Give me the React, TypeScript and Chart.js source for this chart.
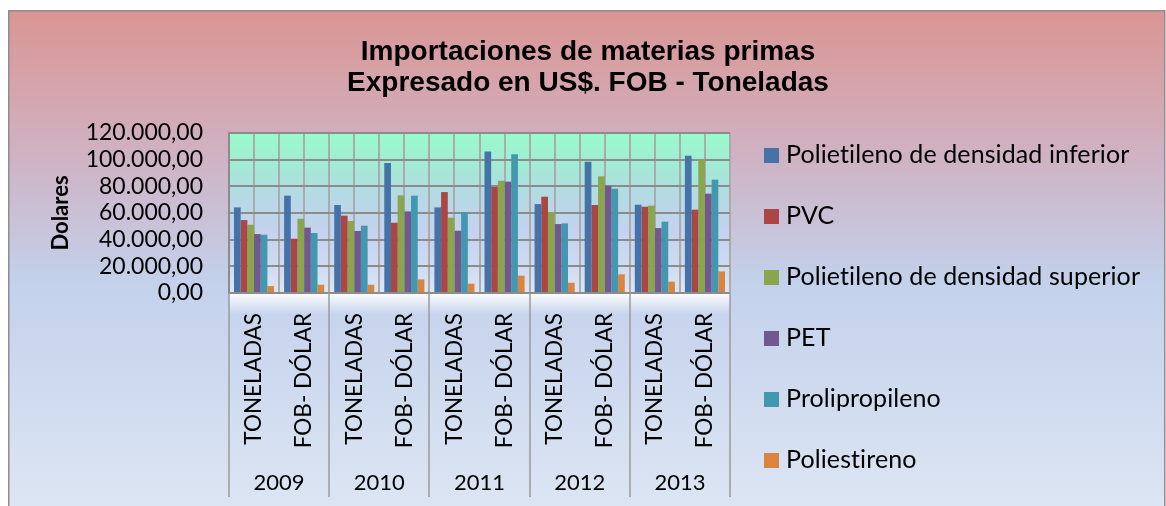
import React, { useEffect, useRef } from 'react';
import { Chart, registerables } from 'chart.js';

Chart.register(...registerables);

const TITLE_LINES = ['Importaciones de materias primas', 'Expresado en US$. FOB - Toneladas'];
const Y_TITLE = 'Dolares';
const YEARS = ['2009', '2010', '2011', '2012', '2013'];
const MEASURES = ['TONELADAS', 'FOB- DÓLAR'];
const CATEGORIES = YEARS.flatMap(() => MEASURES);

const SERIES_NAMES = [
  'Polietileno de densidad inferior',
  'PVC',
  'Polietileno de densidad superior',
  'PET',
  'Prolipropileno',
  'Poliestireno',
];
const PE_INFERIOR = [64200, 73000, 66000, 97500, 64200, 106200, 66700, 98500, 66200, 103000];
const PVC = [54700, 40700, 58000, 52700, 75700, 79500, 72200, 66000, 64700, 62500];
const PE_SUPERIOR = [51200, 55700, 54000, 73200, 56500, 84200, 60500, 87500, 65500, 100200];
const PET = [44200, 49000, 46500, 61200, 46700, 83500, 51700, 80500, 48700, 74500];
const PROLIPROPILENO = [43700, 45000, 50500, 73000, 60700, 104000, 52200, 78200, 53500, 85000];
const POLIESTIRENO = [5200, 6200, 6200, 10200, 7000, 13000, 7700, 14000, 8500, 16200];
const SERIES_VALUES = [PE_INFERIOR, PVC, PE_SUPERIOR, PET, PROLIPROPILENO, POLIESTIRENO];
const COLORS = ['#4572A7', '#AA4643', '#89A54E', '#71588F', '#4198AF', '#DB843D'];

const Y_MIN = 0;
const Y_MAX = 120000;
const Y_STEP = 20000;

const fmt = (v: number) =>
  Math.round(v).toString().replace(/\B(?=(\d{3})+(?!\d))/g, '.') + ',00';

const decor = {
  id: 'decor',
  beforeDraw(chart: any) {
    const { ctx, width, height, chartArea: a } = chart;
    ctx.save();
    ctx.fillStyle = '#ffffff';
    ctx.fillRect(0, 0, width, height);
    const g = ctx.createLinearGradient(0, 2, 0, height);
    g.addColorStop(0, '#DB9593');
    g.addColorStop(0.3, '#CFB3C4');
    g.addColorStop(0.55, '#C3D1EB');
    g.addColorStop(1, '#DCE5F3');
    ctx.fillStyle = g;
    ctx.fillRect(0, 2, width - 1, height - 2);

    const pg = ctx.createLinearGradient(0, a.top, 0, a.bottom);
    pg.addColorStop(0, '#99FACC');
    pg.addColorStop(0.2, '#A2EBD4');
    pg.addColorStop(0.4, '#B5D9E4');
    pg.addColorStop(0.6, '#C4D2EE');
    pg.addColorStop(0.8, '#CDD9F1');
    pg.addColorStop(1, '#DEE6F5');
    ctx.fillStyle = pg;
    ctx.fillRect(a.left, a.top, a.right - a.left, a.bottom - a.top);

    // highlight band under axis
    const hb = ctx.createLinearGradient(0, a.bottom, 0, a.bottom + 22);
    hb.addColorStop(0, 'rgba(255,255,255,0.95)');
    hb.addColorStop(1, 'rgba(255,255,255,0)');
    ctx.fillStyle = hb;
    ctx.fillRect(a.left, a.bottom, a.right - a.left, 22);

    const xs = chart.scales.x;
    const half = (xs.getPixelForValue(1) - xs.getPixelForValue(0)) / 2;
    ctx.strokeStyle = '#ABABAB';
    ctx.lineWidth = 2;
    for (let i = 0; i < CATEGORIES.length; i++) {
      const c = xs.getPixelForValue(i);
      const pts = [c - half, c];
      if (i === CATEGORIES.length - 1) pts.push(c + half);
      for (const p of pts) {
        const px = Math.round(p);
        ctx.beginPath();
        ctx.moveTo(px, a.top);
        ctx.lineTo(px, a.bottom);
        ctx.stroke();
      }
    }
    ctx.restore();
  },
  afterDraw(chart: any) {
    const { ctx, chartArea: a } = chart;
    const xs = chart.scales.x;
    const half = (xs.getPixelForValue(1) - xs.getPixelForValue(0)) / 2;
    ctx.save();
    // title
    ctx.fillStyle = '#000';
    ctx.font = 'bold 28px "Liberation Sans", Arial, sans-serif';
    ctx.textAlign = 'center';
    ctx.textBaseline = 'alphabetic';
    TITLE_LINES.forEach((t, i) => ctx.fillText(t, 580, 52 + i * 30.5));

    // year separators + labels
    ctx.strokeStyle = '#9A9A9A';
    ctx.lineWidth = 1.5;
    for (let k = 0; k <= YEARS.length; k++) {
      const idx = Math.min(2 * k, CATEGORIES.length - 1);
      const px = k < YEARS.length ? xs.getPixelForValue(idx) - half : xs.getPixelForValue(idx) + half;
      ctx.beginPath();
      ctx.moveTo(Math.round(px), a.bottom);
      ctx.lineTo(Math.round(px), 489);
      ctx.stroke();
    }
    ctx.font = '22px Lato, sans-serif';
    ctx.textAlign = 'center';
    YEARS.forEach((y, k) => {
      const cx = (xs.getPixelForValue(2 * k) + xs.getPixelForValue(2 * k + 1)) / 2;
      ctx.fillText(y, cx, 482);
    });

    // legend
    ctx.font = '25px Lato, sans-serif';
    ctx.textAlign = 'left';
    try {
      (ctx as any).textRendering = 'optimizeSpeed';
      (ctx as any).letterSpacing = '0.1px';
    } catch (e) {}
    chart.data.datasets.forEach((ds: any, i: number) => {
      const top = 140 + i * 61;
      ctx.fillStyle = ds.backgroundColor;
      ctx.fillRect(756, top, 15, 15);
      ctx.fillStyle = '#000';
      ctx.fillText(ds.label, 778, top + 15.3);
    });

    // outer border
    ctx.strokeStyle = '#8E8E8E';
    ctx.lineWidth = 1.5;
    ctx.strokeRect(0.75, 2.75, chart.width - 2, chart.height + 20);
    ctx.restore();
  },
};

export default function App() {
  const ref = useRef<HTMLCanvasElement>(null);
  useEffect(() => {
    const canvas = ref.current!;
    const chart = new Chart(canvas, {
      type: 'bar',
      data: {
        labels: CATEGORIES,
        datasets: SERIES_NAMES.map((name, i) => ({
          label: name,
          data: SERIES_VALUES[i],
          backgroundColor: COLORS[i],
          borderWidth: 0,
          categoryPercentage: 0.8,
          barPercentage: 1,
        })),
      },
      options: {
        responsive: false,
        animation: false,
        layout: { padding: { left: 0, top: 125, right: 436, bottom: 0 } },
        plugins: {
          legend: { display: false },
          title: { display: false },
          tooltip: { enabled: false },
        },
        scales: {
          x: {
            grid: { display: false },
            border: { display: false },
            ticks: {
              color: '#000',
              font: { family: 'Lato', size: 22.5 },
              minRotation: 90,
              maxRotation: 90,
              autoSkip: false,
              padding: 12,
            },
            afterFit: (s: any) => {
              s.height = 213;
            },
          },
          y: {
            min: Y_MIN,
            max: Y_MAX,
            grid: { color: '#8C8C8C', lineWidth: 2, drawTicks: false },
            border: { display: true, color: '#8C8C8C', width: 2 },
            ticks: {
              stepSize: Y_STEP,
              autoSkip: false,
              color: '#000',
              font: { family: 'Lato', size: 23 },
              padding: 26,
              callback: (v: any) => fmt(Number(v)),
            },
            title: {
              display: true,
              text: Y_TITLE,
              color: '#000',
              font: { family: 'Lato', size: 22, weight: 'bold' },
              padding: { top: 40, bottom: 0 },
            },
            afterFit: (s: any) => {
              s.width = 221;
            },
          },
        },
      },
      plugins: [decor],
    } as any);
    return () => chart.destroy();
  }, []);
  return (
    <div style={{ position: 'absolute', left: 8, top: 8, width: 1158, height: 498 }}>
      <canvas ref={ref} width={1158} height={498} style={{ display: 'block' }} />
    </div>
  );
}
